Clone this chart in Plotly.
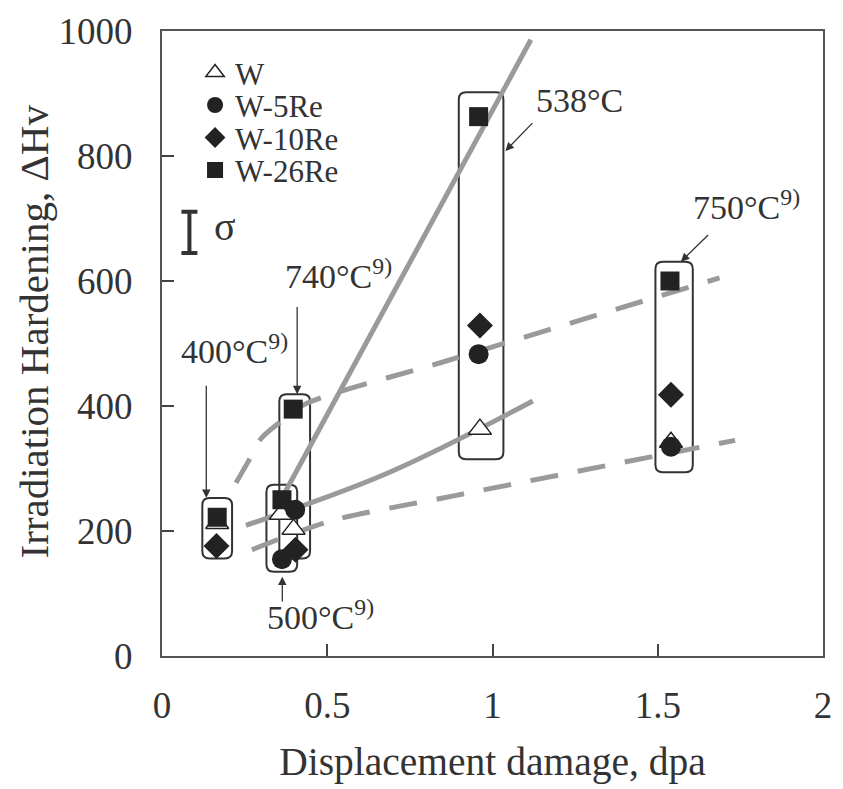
import plotly.graph_objects as go

# ---------------- data ----------------
temps = ["400°C", "500°C", "740°C", "538°C", "750°C"]

dpa_W = [0.167, 0.360, 0.398, 0.962, 1.540]
hv_W = [212, 227, 203, 363, 342]

dpa_5Re = [None, 0.363, 0.403, 0.958, 1.540]
hv_5Re = [None, 155, 234, 483, 335]

dpa_10Re = [0.165, None, 0.404, 0.962, 1.540]
hv_10Re = [176, None, 170, 529, 418]

dpa_26Re = [0.167, 0.363, 0.397, 0.958, 1.537]
hv_26Re = [222, 250, 395, 863, 600]

# trend lines
steep_x = [0.36, 1.116]
steep_y = [250, 986]
low_solid_x = [0.254, 0.68, 1.122]
low_solid_y = [209, 292, 408]
up_dash_x = [0.224, 0.263, 0.30, 0.352, 0.433, 0.86, 1.687]
up_dash_y = [277, 313, 348, 372, 403, 472, 605]
low_dash_x = [0.272, 0.51, 0.89, 1.734]
low_dash_y = [170, 216, 257, 345]

# group boxes (dpa / ΔHv extents)
box_x0 = [0.122, 0.316, 0.355, 0.898, 1.493]
box_x1 = [0.212, 0.409, 0.448, 1.033, 1.606]
box_y0 = [156, 135, 156, 315, 294]
box_y1 = [253, 274, 419, 902, 631]

# scatter (sigma) bar
sigma_x = [0.083]
sigma_y = [678]
sigma_err = [33]

# labels: text, text pos (x,y), arrow head (x,y), arrow tail (x,y)
label_text = ["400°C<sup>9)</sup>", "500°C<sup>9)</sup>", "740°C<sup>9)</sup>",
              "538°C", "750°C<sup>9)</sup>"]
label_x = [0.22, 0.48, 0.535, 1.262, 1.77]
label_y = [491, 65, 611, 889, 722]
head_x = [0.134, 0.364, 0.409, 1.039, 1.570]
head_y = [253, 127, 419, 808, 631]
tail_x = [0.134, 0.364, 0.409, 1.125, 1.657]
tail_y = [435, 85, 561, 855, 676]

FONT = "Liberation Serif, Times New Roman, serif"
TXT = "#333333"
GRAY = "#9a9a9a"

fig = go.Figure()

# lines
fig.add_trace(go.Scatter(x=steep_x, y=steep_y, mode="lines",
                         line=dict(color=GRAY, width=5), showlegend=False, hoverinfo="skip"))
fig.add_trace(go.Scatter(x=low_solid_x, y=low_solid_y, mode="lines",
                         line=dict(color=GRAY, width=5, shape="spline", smoothing=1.0),
                         showlegend=False, hoverinfo="skip"))
fig.add_trace(go.Scatter(x=up_dash_x, y=up_dash_y, mode="lines",
                         line=dict(color=GRAY, width=5, dash="28px,20px", shape="spline", smoothing=0.8),
                         showlegend=False, hoverinfo="skip"))
fig.add_trace(go.Scatter(x=low_dash_x, y=low_dash_y, mode="lines",
                         line=dict(color=GRAY, width=5, dash="28px,20px", shape="spline", smoothing=0.8),
                         showlegend=False, hoverinfo="skip"))

# sigma bar
fig.add_trace(go.Scatter(x=sigma_x, y=sigma_y, mode="markers",
                         marker=dict(size=1, color="rgba(0,0,0,0)"),
                         error_y=dict(type="data", array=sigma_err, color=TXT, thickness=4, width=8),
                         showlegend=False, hoverinfo="skip"))

# data series
series = [
    ("W", dpa_W, hv_W, dict(symbol="triangle-up", size=20, color="white", line=dict(color="#222", width=1.5)), "legend"),
    ("W-5Re", dpa_5Re, hv_5Re, dict(symbol="circle", size=20, color="#222", line=dict(width=0)), "legend2"),
    ("W-10Re", dpa_10Re, hv_10Re, dict(symbol="diamond", size=20, color="#222", line=dict(width=0)), "legend3"),
    ("W-26Re", dpa_26Re, hv_26Re, dict(symbol="square", size=19, color="#222", line=dict(width=0)), "legend4"),
]
for name, xs, ys, mk, lg in series:
    fig.add_trace(go.Scatter(x=xs, y=ys, mode="markers", name=name, marker=mk, legend=lg))

# boxes (rounded rectangles)
rx, ry = 0.022, 11.5
for x0, x1, y0, y1 in zip(box_x0, box_x1, box_y0, box_y1):
    path = (f"M {x0+rx},{y0} L {x1-rx},{y0} Q {x1},{y0} {x1},{y0+ry} "
            f"L {x1},{y1-ry} Q {x1},{y1} {x1-rx},{y1} "
            f"L {x0+rx},{y1} Q {x0},{y1} {x0},{y1-ry} "
            f"L {x0},{y0+ry} Q {x0},{y0} {x0+rx},{y0} Z")
    fig.add_shape(type="path", path=path, xref="x", yref="y",
                  line=dict(color="#333", width=2), layer="below")

# annotations
for t, lx, ly, hx, hy, tx, ty in zip(label_text, label_x, label_y, head_x, head_y, tail_x, tail_y):
    fig.add_annotation(x=lx, y=ly, text=t, showarrow=False, xref="x", yref="y",
                       font=dict(family=FONT, size=34, color=TXT))
    fig.add_annotation(x=hx, y=hy, ax=tx, ay=ty, xref="x", yref="y", axref="x", ayref="y",
                       text="", showarrow=True, arrowhead=2, arrowsize=1.3, arrowwidth=1.3,
                       arrowcolor=TXT)

fig.add_annotation(x=0.19, y=688, text="σ", showarrow=False, xref="x", yref="y",
                   font=dict(family=FONT, size=40, color=TXT))

# y-axis title as rotated annotation
fig.add_annotation(x=-0.193, y=0.52, xref="paper", yref="paper", text="Irradiation Hardening, ΔHv",
                   textangle=-90, showarrow=False, xanchor="center", yanchor="middle",
                   font=dict(family=FONT, size=41, color=TXT))

leg_common = dict(xanchor="left", yanchor="middle", bgcolor="rgba(0,0,0,0)",
                  font=dict(family=FONT, size=31, color=TXT), itemsizing="trace")
legend_rows = [0.933, 0.881, 0.829, 0.777]

fig.update_layout(
    width=843, height=789,
    margin=dict(l=162, r=11, t=21, b=133),
    plot_bgcolor="white", paper_bgcolor="white",
    font=dict(family=FONT, size=36, color=TXT),
    legend=dict(x=0.05, y=legend_rows[0], **leg_common),
    legend2=dict(x=0.05, y=legend_rows[1], **leg_common),
    legend3=dict(x=0.05, y=legend_rows[2], **leg_common),
    legend4=dict(x=0.05, y=legend_rows[3], **leg_common),
    xaxis=dict(range=[0, 2], tickvals=[0, 0.5, 1, 1.5, 2], ticktext=["0", "0.5", "1", "1.5", "2"],
               ticks="inside", ticklen=12, tickwidth=2, tickcolor="#444",
               showline=True, linecolor="#555", linewidth=2, mirror=True,
               showgrid=False, zeroline=False, ticklabelstandoff=16,
               title=dict(text="Displacement damage, dpa", standoff=22,
                          font=dict(family=FONT, size=39.5, color=TXT)),
               tickfont=dict(family=FONT, size=37, color=TXT)),
    yaxis=dict(range=[0, 1000], tickvals=[0, 200, 400, 600, 800, 1000],
               ticks="inside", ticklen=12, tickwidth=2, tickcolor="#444",
               showline=True, linecolor="#555", linewidth=2, mirror=True,
               showgrid=False, zeroline=False, ticklabelstandoff=20,
               tickfont=dict(family=FONT, size=37, color=TXT)),
)

fig.write_html("out.html")
